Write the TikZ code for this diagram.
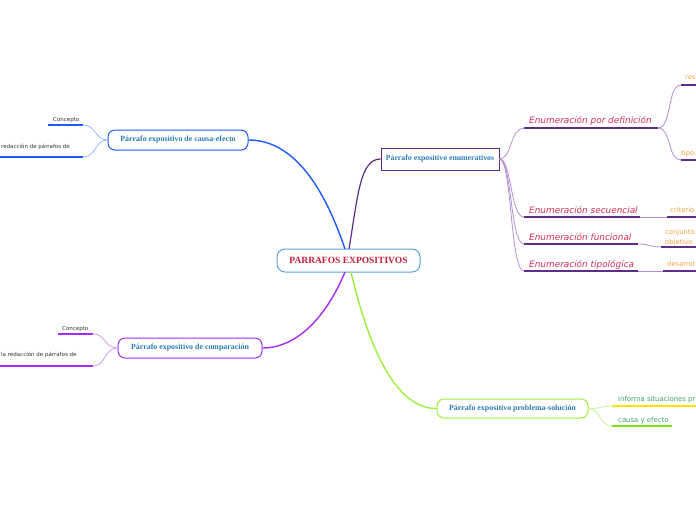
\documentclass[tikz,border=0pt]{standalone}
\usepackage{fontspec}
\setmainfont{Liberation Serif}
\newfontfamily\dvs{DejaVu Sans}
\definecolor{cblue}{HTML}{1E5BFF}
\definecolor{cblueL}{HTML}{9DB9FF}
\definecolor{cpurp}{HTML}{A52CF0}
\definecolor{cpurpL}{HTML}{D29CF5}
\definecolor{cdark}{HTML}{5E2D8A}
\definecolor{cdarkL}{HTML}{B48FD0}
\definecolor{cgreen}{HTML}{9CF03C}
\definecolor{cgreenL}{HTML}{C8F59A}
\definecolor{cenb}{HTML}{5AA2DC}
\definecolor{cred}{HTML}{C21F3A}
\definecolor{ntext}{HTML}{2C7BB6}
\definecolor{enum}{HTML}{D02F55}
\definecolor{orng}{HTML}{F5A445}
\definecolor{tgreen}{HTML}{3DA56A}
\definecolor{yel}{HTML}{FFE20A}
\definecolor{lgrn}{HTML}{7EE01A}
\begin{document}
\begin{tikzpicture}[x=1pt,y=-1pt,
  mainbox/.style={draw, line width=1pt, rounded corners=7pt, inner sep=0pt, font=\fontsize{7.9}{9}\selectfont\bfseries, text=ntext},
  leaf/.style={inner sep=0pt, anchor=base west, font=\dvs\fontsize{5.5}{6}\selectfont, text=black!80},
  enumt/.style={inner sep=0pt, anchor=base west, font=\dvs\itshape\fontsize{8.9}{10}\selectfont, text=enum},
  orng/.style={inner sep=0pt, anchor=base west, font=\dvs\fontsize{6.8}{8}\selectfont, text=orng},
  uline/.style={line width=1.8pt},
  thin/.style={line width=0.8pt}
]
\useasboundingbox (0,0) rectangle (696,520);
\clip (0,0) rectangle (696,520);
\fill[white] (0,0) rectangle (696,520);

% central
\node[draw=cenb, line width=1pt, rounded corners=8pt, minimum width=143pt, minimum height=23pt, inner sep=0pt,
  font=\fontsize{9.5}{11}\selectfont\bfseries, text=cred] (cen) at (348.5,260.5) {PARRAFOS EXPOSITIVOS};
\coordinate (c1) at (345,249);
\coordinate (c2) at (349,249);
\coordinate (c3) at (345,272);
\coordinate (c4) at (351,272);

% main nodes
\node[mainbox, draw=cblue, minimum width=140pt, minimum height=20pt] (ce) at (178,140) {Párrafo expositivo de causa-efecto};
\node[mainbox, draw=cpurp, minimum width=144pt, minimum height=20pt] (cp) at (190,348) {Párrafo expositivo de comparación};
\node[mainbox, draw=cdark, rounded corners=0pt, line width=0.8pt, minimum width=118pt, minimum height=22pt, font=\fontsize{7.8}{9}\selectfont\bfseries] (en) at (440,159) {Párrafo expositivo enumerativos};
\node[mainbox, draw=cgreen, minimum width=151pt, minimum height=19pt] (ps) at (512.5,408.5) {Párrafo expositivo problema-solución};

% main connectors
\draw[cblue, line width=1.4pt] (c1) .. controls (325,190) and (295,140) .. (ce.east);
\draw[cpurp, line width=1.4pt] (c3) .. controls (325,320) and (295,348) .. (cp.east);
\draw[cdark, line width=1.2pt] (c2) .. controls (358,195) and (360,159) .. (en.west);
\draw[cgreen, line width=1.4pt] (c4) .. controls (368,345) and (395,409) .. (ps.west);

% causa-efecto children
\node[leaf] (ce1) at (53,121) {Concepto};
\node[leaf] (ce2) at (1,148) {redacción de párrafos de};
\coordinate (ce1a) at (48,125); \coordinate (ce1b) at (83,125);
\coordinate (ce2a) at (0,157); \coordinate (ce2b) at (83,157);
\draw[cblue, uline] (ce1a) -- (ce1b);
\draw[cblue, uline] (ce2a) -- (ce2b);
\draw[cblueL, thin] (ce.west) .. controls (95,140) and (96,125) .. (ce1b);
\draw[cblueL, thin] (ce.west) .. controls (95,140) and (96,157) .. (ce2b);

% comparacion children
\node[leaf] (cp1) at (62,330) {Concepto};
\node[leaf] (cp2) at (1,356) {la redacción de párrafos de};
\coordinate (cp1a) at (58,334); \coordinate (cp1b) at (93,334);
\coordinate (cp2a) at (0,366); \coordinate (cp2b) at (93,366);
\draw[cpurp, uline] (cp1a) -- (cp1b);
\draw[cpurp, uline] (cp2a) -- (cp2b);
\draw[cpurpL, thin] (cp.west) .. controls (104,348) and (106,334) .. (cp1b);
\draw[cpurpL, thin] (cp.west) .. controls (104,348) and (106,366) .. (cp2b);

% enumeration children
\node[enumt] (e1) at (529,123) {Enumeración por definición};
\node[enumt] (e2) at (529,213) {Enumeración secuencial};
\node[enumt] (e3) at (529,240) {Enumeración funcional};
\node[enumt] (e4) at (529,267) {Enumeración tipológica};
\coordinate (e1a) at (524,128); \coordinate (e1b) at (658,128);
\coordinate (e2a) at (524,217); \coordinate (e2b) at (640,217);
\coordinate (e3a) at (524,244); \coordinate (e3b) at (638,244);
\coordinate (e4a) at (524,271); \coordinate (e4b) at (638,271);
\foreach \n in {1,2,3,4} {\draw[cdark, line width=1.4pt] (e\n a) -- (e\n b);}
\draw[cdarkL, thin] (en.east) .. controls (512,159) and (510,128) .. (e1a);
\draw[cdarkL, thin] (en.east) .. controls (512,159) and (510,217) .. (e2a);
\draw[cdarkL, thin] (en.east) .. controls (512,159) and (510,244) .. (e3a);
\draw[cdarkL, thin] (en.east) .. controls (512,159) and (510,271) .. (e4a);

% grandchildren
\node[orng] (g1) at (685,79) {res};
\node[orng] (g2) at (681,155) {tipo};
\node[orng] (g3) at (670,212) {criterio};
\node[orng] (g4) at (665,234) {conjunto};
\node[orng] (g4b) at (665,244) {objetivo};
\node[orng] (g5) at (667,266) {desarrol};
\coordinate (g1a) at (681,85); \coordinate (g1b) at (700,85);
\coordinate (g2a) at (681,160); \coordinate (g2b) at (700,160);
\coordinate (g3a) at (667,217); \coordinate (g3b) at (700,217);
\coordinate (g4a) at (661,247); \coordinate (g4b2) at (700,247);
\coordinate (g5a) at (663,271); \coordinate (g5b) at (700,271);
\draw[cdark, line width=1.4pt] (g1a) -- (g1b);
\draw[cdark, line width=1.4pt] (g2a) -- (g2b);
\draw[cdark, line width=1.4pt] (g3a) -- (g3b);
\draw[cdark, line width=1.4pt] (g4a) -- (g4b2);
\draw[cdark, line width=1.4pt] (g5a) -- (g5b);
\draw[cdarkL, thin] (e1b) .. controls (672,128) and (667,85) .. (g1a);
\draw[cdarkL, thin] (e1b) .. controls (672,128) and (667,160) .. (g2a);
\draw[cdarkL, thin] (e2b) .. controls (654,217) and (653,217) .. (g3a);
\draw[cdarkL, thin] (e3b) .. controls (650,244) and (649,247) .. (g4a);
\draw[cdarkL, thin] (e4b) .. controls (651,271) and (651,271) .. (g5a);

% problema-solucion children
\node[leaf, text=tgreen, font=\dvs\fontsize{6.9}{8}\selectfont] (p1) at (618,401) {informa situaciones pr};
\node[leaf, text=tgreen, font=\dvs\fontsize{6.9}{8}\selectfont] (p2) at (618,422) {causa y efecto};
\coordinate (p1a) at (612,406); \coordinate (p1b) at (700,406);
\coordinate (p2a) at (612,426); \coordinate (p2b) at (672,426);
\draw[yel, uline] (p1a) -- (p1b);
\draw[lgrn, uline] (p2a) -- (p2b);
\draw[cgreenL, thin] (ps.east) .. controls (600,409) and (600,406) .. (p1a);
\draw[cgreenL, thin] (ps.east) .. controls (600,409) and (600,426) .. (p2a);
\end{tikzpicture}
\end{document}
